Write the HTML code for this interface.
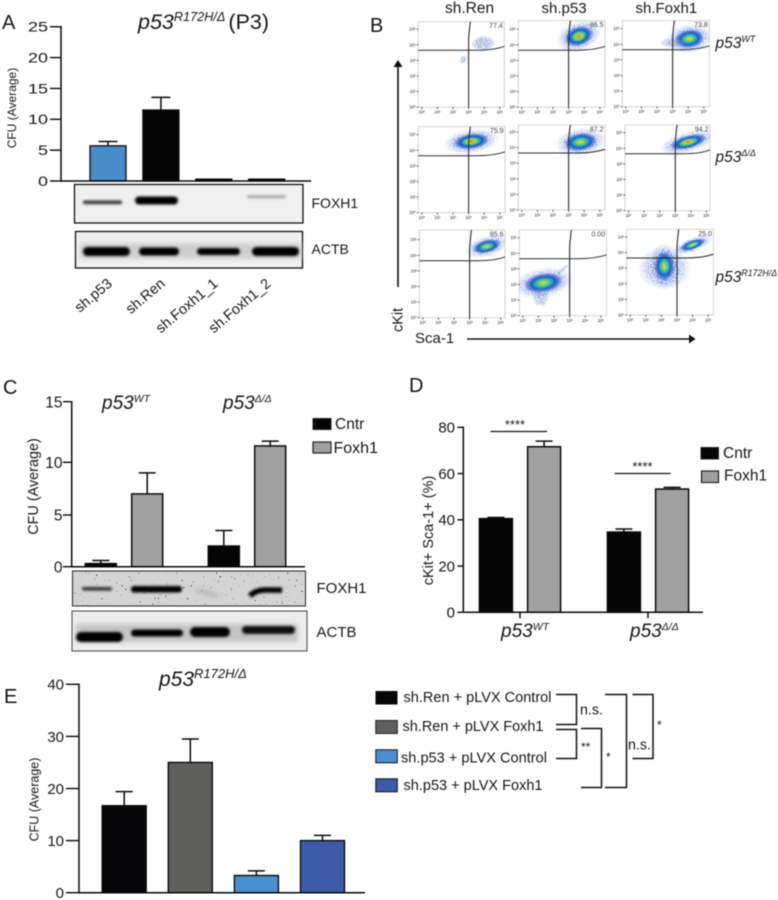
<!DOCTYPE html>
<html lang="en">
<head>
<meta charset="utf-8">
<title>p53 Foxh1 figure</title>
<style>
html,body{margin:0;padding:0;background:#fff;width:778px;height:900px;overflow:hidden}
svg{display:block;filter:blur(0.4px)}
text{font-family:"Liberation Sans",sans-serif;fill:#161616}
.it{font-style:italic}
.line{stroke:#0a0a0a;fill:none}
</style>
</head>
<body>
<svg id="figure" xmlns="http://www.w3.org/2000/svg" width="778" height="900" viewBox="0 0 778 900">
<defs>
  <radialGradient id="heatHot"><stop offset="0" stop-color="#e8401c"/><stop offset=".12" stop-color="#f3b022"/><stop offset=".26" stop-color="#a6d44a"/><stop offset=".42" stop-color="#2cc3ae"/><stop offset=".62" stop-color="#1c56c8"/><stop offset=".85" stop-color="#3560d0" stop-opacity=".55"/><stop offset="1" stop-color="#3560d0" stop-opacity="0"/></radialGradient>
  <radialGradient id="heatMid"><stop offset="0" stop-color="#e6dc34"/><stop offset=".18" stop-color="#9dd24e"/><stop offset=".38" stop-color="#2cc0b5"/><stop offset=".62" stop-color="#1f5ac8"/><stop offset=".85" stop-color="#3560d0" stop-opacity=".55"/><stop offset="1" stop-color="#3560d0" stop-opacity="0"/></radialGradient>
  <radialGradient id="heatSparse"><stop offset="0" stop-color="#b8b888" stop-opacity=".8"/><stop offset=".5" stop-color="#7f9cdc" stop-opacity=".55"/><stop offset="1" stop-color="#9db4e8" stop-opacity=".05"/></radialGradient>
  <radialGradient id="haloGrad"><stop offset="0" stop-color="#2a50c0"/><stop offset=".65" stop-color="#4a70d4" stop-opacity=".8"/><stop offset="1" stop-color="#8aa4e6" stop-opacity="0"/></radialGradient>
  <filter id="speckle" x="-10%" y="-10%" width="120%" height="120%">
    <feTurbulence type="fractalNoise" baseFrequency="0.85" numOctaves="2" seed="4" result="n"/>
    <feColorMatrix in="n" type="matrix" values="0 0 0 0 0  0 0 0 0 0  0 0 0 0 0  7 0 0 0 -3" result="m"/>
    <feComposite in="SourceGraphic" in2="m" operator="in"/>
  </filter>
  <filter id="specks" x="0" y="0" width="100%" height="100%">
    <feTurbulence type="fractalNoise" baseFrequency="0.55" numOctaves="1" seed="9" result="n"/>
    <feColorMatrix in="n" type="matrix" values="0 0 0 0 0  0 0 0 0 0  0 0 0 0 0  14 0 0 0 -9.9"/>
  </filter>
  <filter id="blur1" x="-20%" y="-100%" width="140%" height="300%"><feGaussianBlur stdDeviation="1.3"/></filter>
  <filter id="blur2" x="-20%" y="-100%" width="140%" height="300%"><feGaussianBlur stdDeviation="2.4"/></filter>
  <clipPath id="clipBlotC"><rect x="72" y="571" width="234" height="35"/></clipPath>
</defs>
<rect width="778" height="900" fill="#fff"/>

<!-- panel letters -->
<text x="2" y="29" font-size="20">A</text>
<text x="370" y="32" font-size="20">B</text>
<text x="3" y="394" font-size="20">C</text>
<text x="409" y="392" font-size="20">D</text>
<text x="4" y="703" font-size="20">E</text>

<!-- Panel A static -->
<g id="panelA">
  <text x="138" y="29" font-size="21.5"><tspan class="it">p53</tspan><tspan class="it" dy="-8" font-size="12.7">R172H/Δ</tspan><tspan dy="8" dx="3">(P3)</tspan></text>
  <text transform="translate(16 108) rotate(-90)" text-anchor="middle" font-size="12">CFU (Average)</text>
  <g>
    <rect x="74.5" y="184.5" width="228.5" height="38.5" fill="#f0f0f0" stroke="#111" stroke-width="1.3"/>
    <rect x="83" y="200.5" width="39" height="3.6" rx="1.8" fill="#333" filter="url(#blur1)"/>
    <rect x="135" y="196.5" width="43" height="8" rx="4" fill="#000" filter="url(#blur1)"/>
    <rect x="247" y="195" width="39" height="3.2" rx="1.6" fill="#aaa" filter="url(#blur1)"/>
  </g>
  <g>
    <rect x="75.5" y="231.5" width="227" height="36.5" fill="#f1f1f1" stroke="#111" stroke-width="1.3"/>
    <rect x="80" y="243" width="221" height="16" fill="#cfcfcf" filter="url(#blur2)"/>
    <rect x="83" y="247" width="47" height="9" rx="4.5" fill="#000" filter="url(#blur1)"/>
    <rect x="139" y="247.5" width="40" height="8" rx="4" fill="#000" filter="url(#blur1)"/>
    <rect x="197" y="248" width="43" height="7" rx="3.5" fill="#000" filter="url(#blur1)"/>
    <rect x="252" y="247" width="47" height="9" rx="4.5" fill="#000" filter="url(#blur1)"/>
  </g>
  <text x="311.5" y="208" font-size="14">FOXH1</text>
  <text x="311.5" y="254" font-size="14">ACTB</text>
</g>

<!-- Panel B static -->
<g id="panelB">
  <text x="445" y="13" font-size="15.5">sh.Ren</text>
  <text x="541.5" y="13" font-size="15">sh.p53</text>
  <text x="635.5" y="13" font-size="15">sh.Foxh1</text>
  <text x="715.5" y="48" font-size="15.5" class="it">p53<tspan dy="-6" font-size="9">WT</tspan></text>
  <text x="715.5" y="162" font-size="15.5" class="it">p53<tspan dy="-6" font-size="9">Δ/Δ</tspan></text>
  <text x="715.5" y="282" font-size="15.5" class="it">p53<tspan dy="-6" font-size="8.8">R172H/Δ</tspan></text>
  <g>
    <line x1="398" y1="287" x2="398" y2="66" stroke="#111" stroke-width="1.6"/>
    <polygon points="398,60 393.5,67 402.5,67" fill="#111"/>
  </g>
  <text transform="translate(402.5 332) rotate(-90)" font-size="14.5">cKit</text>
  <text x="415" y="343" font-size="15">Sca-1</text>
  <g>
    <line x1="467" y1="339" x2="690" y2="339" stroke="#111" stroke-width="1.6"/>
    <polygon points="695.5,339 689,334.5 689,343.5" fill="#111"/>
  </g>
</g>

<!-- Panel C static -->
<g id="panelC">
  <text x="102" y="409" font-size="19" class="it">p53<tspan dy="-7" font-size="10.5">WT</tspan></text>
  <text x="223" y="409" font-size="19" class="it">p53<tspan dy="-7" font-size="10.5">Δ/Δ</tspan></text>
  <text transform="translate(38 486.5) rotate(-90)" text-anchor="middle" font-size="14.4">CFU (Average)</text>
  <g>
    <rect x="313" y="418.5" width="18" height="11" fill="#050505" stroke="#222" stroke-width="1"/>
    <text x="335" y="429" font-size="15.5">Cntr</text>
    <rect x="313" y="442" width="18" height="11" fill="#a0a0a0" stroke="#222" stroke-width="1.2"/>
    <text x="333.5" y="453" font-size="16">Foxh1</text>
  </g>
  <g>
    <rect x="72.5" y="571" width="233" height="35" fill="#d4d4d4" stroke="#222" stroke-width="1"/>
    <rect x="73" y="572" width="232" height="33" filter="url(#specks)"/>
    <rect x="82" y="587" width="30" height="3.6" rx="1.8" fill="#333" filter="url(#blur1)"/>
    <rect x="131" y="586" width="51" height="6.5" rx="3" fill="#000" filter="url(#blur1)"/>
    <path d="M196 590 L218 596" stroke="#aaa" stroke-width="3" fill="none" filter="url(#blur2)"/>
    <path d="M250 596 Q255 590 266 590 L282 590" stroke="#000" stroke-width="5.5" fill="none" filter="url(#blur1)"/>
  </g>
  <g>
    <rect x="72" y="611" width="235" height="40" fill="#ededed" stroke="#444" stroke-width="1"/>
    <rect x="76" y="624" width="222" height="18" fill="#c4c4c4" filter="url(#blur2)"/>
    <rect x="76" y="632" width="47" height="10" rx="5" fill="#000" filter="url(#blur1)"/>
    <rect x="131" y="629.5" width="52" height="7" rx="3.5" fill="#000" filter="url(#blur1)"/>
    <rect x="190" y="627" width="40" height="10" rx="5" fill="#000" filter="url(#blur1)"/>
    <rect x="242" y="626" width="53" height="8" rx="4" fill="#111" filter="url(#blur1)"/>
  </g>
  <text x="316.5" y="593" font-size="15">FOXH1</text>
  <text x="316.5" y="637" font-size="15">ACTB</text>
</g>

<!-- Panel D static -->
<g id="panelD">
  <text transform="translate(433 530.5) rotate(-90)" text-anchor="middle" font-size="14.5">cKit+ Sca-1+ (%)</text>
  <line x1="490.5" y1="431.5" x2="547" y2="431.5" stroke="#111" stroke-width="1.3"/>
  <text x="515" y="429" text-anchor="middle" font-size="13">****</text>
  <line x1="614.5" y1="473.5" x2="670.5" y2="473.5" stroke="#111" stroke-width="1.3"/>
  <text x="642.5" y="471" text-anchor="middle" font-size="13">****</text>
  <text x="501" y="637" font-size="19" class="it">p53<tspan dy="-7" font-size="10.5">WT</tspan></text>
  <text x="630" y="637" font-size="19" class="it">p53<tspan dy="-7" font-size="10.5">Δ/Δ</tspan></text>
  <g>
    <rect x="701" y="447.5" width="17.5" height="11.5" fill="#050505" stroke="#222" stroke-width="1"/>
    <text x="723" y="458" font-size="15.5">Cntr</text>
    <rect x="701.5" y="471" width="17" height="11.5" fill="#a0a0a0" stroke="#222" stroke-width="1.2"/>
    <text x="724" y="480.5" font-size="15.5">Foxh1</text>
  </g>
</g>

<!-- Panel E static -->
<g id="panelE">
  <text x="159" y="686" font-size="21" class="it">p53<tspan dy="-8" font-size="13">R172H/Δ</tspan></text>
  <text transform="translate(38.5 799.5) rotate(-90)" text-anchor="middle" font-size="12.5">CFU (Average)</text>
  <g>
    <rect x="375.5" y="691" width="22" height="13.5" fill="#060608"/>
    <text x="403.5" y="702" font-size="14.5" textLength="148" lengthAdjust="spacingAndGlyphs">sh.Ren + pLVX Control</text>
    <rect x="375.8" y="720.5" width="21.5" height="13" fill="#5f605e" stroke="#222" stroke-width="1"/>
    <text x="402.5" y="731" font-size="14.5" textLength="141" lengthAdjust="spacingAndGlyphs">sh.Ren + pLVX Foxh1</text>
    <rect x="375.8" y="749.8" width="21.5" height="13" fill="#4a8fd0" stroke="#111" stroke-width="1"/>
    <text x="401" y="762.5" font-size="14.5" textLength="146" lengthAdjust="spacingAndGlyphs">sh.p53 + pLVX Control</text>
    <rect x="375.8" y="778.8" width="21.5" height="13" fill="#3e5ba8" stroke="#111" stroke-width="1"/>
    <text x="403.5" y="790" font-size="14.5" textLength="139" lengthAdjust="spacingAndGlyphs">sh.p53 + pLVX Foxh1</text>
  </g>
  <g fill="none" stroke="#111" stroke-width="1.5">
    <path d="M556 694.5H576.5V724.5H556"/>
    <path d="M556 729.5H576.5V758.5H556"/>
    <path d="M581 728.5H601.5V787.5H581"/>
    <path d="M605 694.5H626.5V787.5H605"/>
    <path d="M632.5 694.5H653V758.5H632.5"/>
  </g>
  <text x="580" y="714.5" font-size="15" textLength="23" lengthAdjust="spacingAndGlyphs">n.s.</text>
  <text x="581" y="751" font-size="12">**</text>
  <text x="606" y="761" font-size="12">*</text>
  <text x="628" y="749.5" font-size="15" textLength="23" lengthAdjust="spacingAndGlyphs">n.s.</text>
  <text x="657" y="729" font-size="12">*</text>
</g>

<script>
// Panel A data
const aCategories = ['sh.p53', 'sh.Ren', 'sh.Foxh1_1', 'sh.Foxh1_2'];
const aValues = [5.7, 11.5, 0.3, 0.3];
const aErrors = [0.7, 2.05, 0, 0];
const aFills = ['#4a8bc9', '#050505', '#050505', '#050505'];
const aTicks = ['0', '5', '10', '15', '20', '25'];
// Panel C data
const cCategories = ['wt-cntr', 'wt-foxh1', 'null-cntr', 'null-foxh1'];
const cValues = [0.3, 7, 2, 11.35];
const cErrors = [0.3, 2, 1.5, 0.4];
const cFills = ['#050505', '#a0a0a0', '#050505', '#a0a0a0'];
const cTicks = ['0', '5', '10', '15'];
// Panel D data
const dCategories = ['wt-cntr', 'wt-foxh1', 'null-cntr', 'null-foxh1'];
const dValues = [40.5, 71.6, 34.7, 53.3];
const dErrors = [0.5, 2.4, 1.3, 0.7];
const dFills = ['#050505', '#a0a0a0', '#050505', '#a0a0a0'];
const dTicks = ['0', '20', '40', '60', '80'];
// Panel E data
const eCategories = ['ren-control', 'ren-foxh1', 'p53-control', 'p53-foxh1'];
const eValues = [16.7, 25, 3.3, 10];
const eErrors = [2.7, 4.5, 0.9, 1];
const eFills = ['#060608', '#5f605e', '#4a8fd0', '#3e5ba8'];
const eTicks = ['0', '10', '20', '30', '40'];
// Panel B flow data: populations in log10 units
const flowPercent = ['77.4', '86.5', '73.8', '75.9', '87.2', '94.2', '85.6', '0.00', '25.0'];
const flowDecades = ['10⁰', '10¹', '10²', '10³', '10⁴', '10⁵'];
const clusterPlot = [0, 0, 1, 2, 2, 3, 4, 5, 6, 7, 7, 7, 8, 8, 8];
const clusterLogSca = [3.94, 2.66, 3.66, 4.08, 3.0, 3.17, 3.77, 3.83, 4.1, 1.32, 2.55, 1.15, 2.2, 2.19, 4.0];
const clusterLogKit = [4.09, 3.06, 4.55, 4.36, 4.1, 4.57, 4.36, 4.4, 4.57, 2.1, 2.95, 1.2, 3.0, 3.13, 4.5];
const clusterSpreadSca = [0.75, 0.3, 0.95, 0.95, 0.8, 1.15, 1.05, 1.2, 0.92, 1.25, 0.55, 0.5, 1.6, 0.65, 0.85];
const clusterSpreadKit = [0.5, 0.2, 0.62, 0.6, 0.3, 0.5, 0.58, 0.42, 0.42, 0.62, 0.1, 0.6, 1.3, 0.95, 0.3];
const clusterTilt = [-5, -40, -20, -8, 0, -8, -8, -15, -15, -10, -40, 0, 0, 0, -20];
const clusterHeat = ['sparse', 'sparse', 'hot', 'mid', 'sparse', 'hot', 'mid', 'hot', 'mid', 'mid', 'sparse', 'sparse', 'sparse', 'mid', 'mid'];

const NS = 'http://www.w3.org/2000/svg';
const figure = document.getElementById('figure');
function mk(tag, attrs, parent) {
  const e = document.createElementNS(NS, tag);
  for (const k in attrs) e.setAttribute(k, attrs[k]);
  parent.appendChild(e);
  return e;
}

// Axis functions
const yA = v => 181 - v * 6.17;
const xA = i => 108 + i * 52.9;
function yC(v) {
  if (v <= 5) return 566.7 - v * 10.34;
  if (v <= 10) return 515 - (v - 5) * 10.54;
  return 462.3 - (v - 10) * 12.12;
}
const xC = i => (i < 2 ? 124 : 247) + (i % 2 ? 23.2 : -23.2);
const yD = v => 612.3 - v * 2.3125;
const xD = i => (i < 2 ? 520 : 648) + (i % 2 ? 24.1 : -24.1);
const yE = v => 892.7 - v * 5.21;
const xE = i => 124.2 + i * 66.1;

function drawBars(parent, prefix, cats, vals, errs, fills, xFn, yFn, w, cap, sw) {
  cats.forEach((c, i) => {
    const top = yFn(vals[i]);
    if (errs[i] > 0) {
      const et = yFn(vals[i] + errs[i]);
      const stem = mk('line', {x1: xFn(i), x2: xFn(i), y1: top, y2: et, stroke: '#0a0a0a', 'stroke-width': 1.5}, parent);
      
      
      const capLine = mk('line', {x1: xFn(i) - cap / 2, x2: xFn(i) + cap / 2, y1: et, y2: et, stroke: '#0a0a0a', 'stroke-width': 1.5}, parent);
      
      
    }
    const bar = mk('rect', {x: xFn(i) - w / 2, y: top, width: w, height: Math.max(0, yFn(0) - top), fill: fills[i], stroke: '#0a0a0a', 'stroke-width': sw}, parent);
    
    
  });
}

function drawAxis(parent, prefix, ticks, yFn, xAxis, xEnd, tickLeft, labelX, fontSize, stretch) {
  ticks.forEach(t => {
    const v = +t;
    const tick = mk('line', {x1: tickLeft, x2: xAxis, y1: yFn(v), y2: yFn(v), stroke: '#0a0a0a', 'stroke-width': 1.4}, parent);
    
    
    const a = {x: labelX, y: yFn(v) + fontSize * 0.36, 'text-anchor': 'end', 'font-size': fontSize};
    if (stretch) { a.textLength = stretch * t.length; a.lengthAdjust = 'spacingAndGlyphs'; }
    const lab = mk('text', a, parent);
    lab.textContent = t;
    
    
  });
  const maxV = Math.max.apply(null, ticks.map(Number));
  const yLine = mk('line', {x1: xAxis, x2: xAxis, y1: yFn(maxV) - 0.7, y2: yFn(0) + 0.7, stroke: '#0a0a0a', 'stroke-width': 1.5}, parent);
  
  
  const xLine = mk('line', {x1: xAxis, x2: xEnd, y1: yFn(0), y2: yFn(0), stroke: '#0a0a0a', 'stroke-width': 1.5}, parent);
  
  
}

// Panel A
const gA = document.getElementById('panelA');
drawBars(gA, 'panel-a', aCategories, aValues, aErrors, aFills, xA, yA, 36, 19, 1.3);
drawAxis(gA, 'panel-a', aTicks, yA, 61, 311, 50, 48, 13.5, 10);
aCategories.forEach((c, i) => {
  const x = xA(i) + 5, y = 285;
  const t = mk('text', {x: x, y: y, 'text-anchor': 'end', 'font-size': 14.5, transform: 'rotate(-40 ' + x + ' ' + y + ')'}, gA);
  t.textContent = c;
  
  
});

// Panel C
const gC = document.getElementById('panelC');
drawBars(gC, 'panel-c', cCategories, cValues, cErrors, cFills, xC, yC, 31, 17, 1.5);
drawAxis(gC, 'panel-c', cTicks, yC, 71.7, 305, 63, 62.5, 15.5, 0);

// Panel D
const gD = document.getElementById('panelD');
drawBars(gD, 'panel-d', dCategories, dValues, dErrors, dFills, xD, yD, 33, 17, 1.5);
drawAxis(gD, 'panel-d', dTicks, yD, 463.3, 703, 457.5, 455, 15, 0);
[0, 2].forEach(i => {
  const gx = (xD(i) + xD(i + 1)) / 2;
  const tk = mk('line', {x1: gx, x2: gx, y1: yD(0), y2: yD(0) + 6, stroke: '#0a0a0a', 'stroke-width': 1.4}, gD);
  
  
});

// Panel E
const gE = document.getElementById('panelE');
drawBars(gE, 'panel-e', eCategories, eValues, eErrors, eFills, xE, yE, 44, 17, 1.4);
drawAxis(gE, 'panel-e', eTicks, yE, 79, 365, 66, 64, 15, 0);

// Panel B flow plots
const gB = document.getElementById('panelB');
const DECADE = 15.6;
const GATE_SCA = 3.0, GATE_KIT = 3.65;
function drawPlot(idx, left, top, w, h) {
  const bottom = top + h, right = left + w;
  const px = v => left + 3.5 + v * DECADE;
  const py = v => bottom - v * DECADE;
  const g = mk('g', {}, gB);
  
  
  const clip = mk('clipPath', {id: 'plotClip' + idx}, g);
  mk('rect', {x: left, y: top, width: w, height: h}, clip);
  const frame = mk('rect', {x: left, y: top, width: w, height: h, fill: '#fff', stroke: '#d2d2d2', 'stroke-width': 1}, g);
  
  
  const cloud = mk('g', {'clip-path': 'url(#plotClip' + idx + ')'}, g);
  
  
  clusterPlot.forEach((p, c) => {
    if (p !== idx) return;
    const cx = px(clusterLogSca[c]), cy = py(clusterLogKit[c]);
    const rx = clusterSpreadSca[c] * DECADE, ry = clusterSpreadKit[c] * DECADE;
    const rot = 'rotate(' + clusterTilt[c] + ' ' + cx + ' ' + cy + ')';
    const heat = clusterHeat[c];
    const halo = mk('ellipse', {cx: cx, cy: cy, rx: rx * (heat === 'sparse' ? 1.1 : 1.6), ry: ry * (heat === 'sparse' ? 1.1 : 1.6), transform: rot, fill: 'url(#haloGrad)', filter: 'url(#speckle)', opacity: heat === 'sparse' ? 0.5 : 0.75}, cloud);
    
    
    const core = mk('ellipse', {cx: cx, cy: cy, rx: rx, ry: ry, transform: rot, fill: heat === 'hot' ? 'url(#heatHot)' : heat === 'mid' ? 'url(#heatMid)' : 'url(#heatSparse)'}, cloud);
    if (heat === 'sparse') core.setAttribute('filter', 'url(#speckle)');
    
    
  });
  // decade ticks and labels
  flowDecades.forEach((d, i) => {
    const tx = mk('line', {x1: px(i), x2: px(i), y1: bottom, y2: bottom + 1.8, stroke: '#222', 'stroke-width': 0.8}, g);
    
    
    const lx = mk('text', {x: px(i), y: bottom + 6.5, 'text-anchor': 'middle', 'font-size': 4.2}, g);
    lx.textContent = d;
    
    
    const ty = mk('line', {x1: left - 1.5, x2: left, y1: py(i), y2: py(i), stroke: '#222', 'stroke-width': 0.8}, g);
    
    
    const ly = mk('text', {x: left - 2.5, y: py(i) + 1.5, 'text-anchor': 'end', 'font-size': 4.2}, g);
    ly.textContent = d;
    
    
  });
  const gy = py(GATE_KIT), gx = px(GATE_SCA);
  const hGate = mk('path', {d: 'M' + left + ' ' + gy + ' L' + px(3.5) + ' ' + gy + ' Q' + px(4.6) + ' ' + gy + ' ' + right + ' ' + (gy - 3.8), fill: 'none', stroke: '#2a2a2a', 'stroke-width': 1}, g);
  
  
  const vGate = mk('path', {d: 'M' + gx + ' ' + bottom + ' L' + gx + ' ' + py(4.2) + ' Q' + gx + ' ' + py(4.7) + ' ' + (gx + 1.8) + ' ' + top, fill: 'none', stroke: '#2a2a2a', 'stroke-width': 1.1}, g);
  
  
  const pct = mk('text', {x: right - 1.5, y: top + 6.5, 'text-anchor': 'end', 'font-size': 7, style: 'fill:#444'}, g);
  pct.textContent = flowPercent[idx];
  
  
}
drawPlot(0, 418.3, 21.7, 86, 85.5);
drawPlot(1, 518.3, 20.7, 86.7, 86.5);
drawPlot(2, 622.3, 20.7, 87, 86);
drawPlot(3, 418.3, 126.7, 86.7, 86);
drawPlot(4, 518.3, 125, 86.7, 85);
drawPlot(5, 625, 125, 85, 85.7);
drawPlot(6, 419.3, 230, 85.7, 87.7);
drawPlot(7, 519.3, 230, 87.3, 85.7);
drawPlot(8, 626.7, 229.3, 86.7, 85.7);
</script>
</svg>
</body>
</html>
